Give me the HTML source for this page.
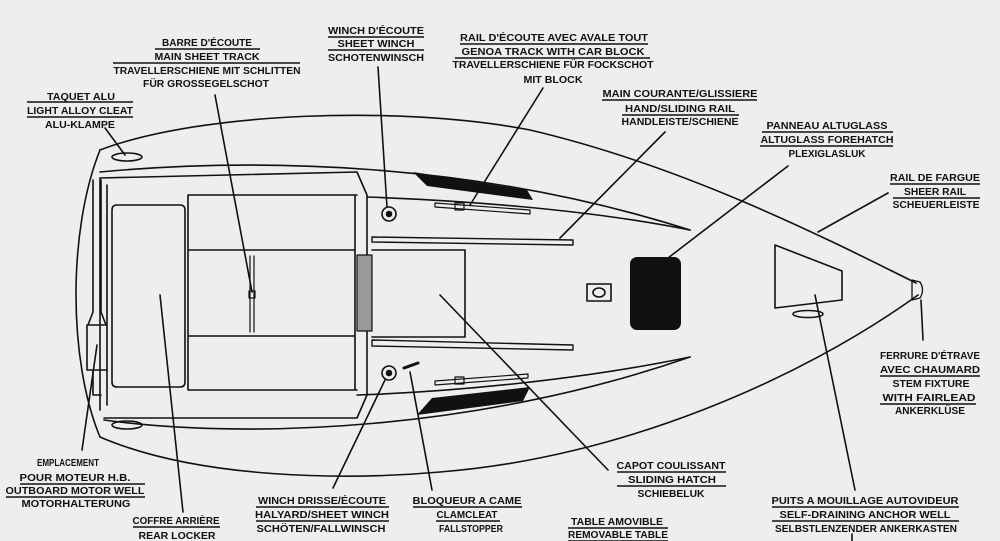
<!DOCTYPE html>
<html><head><meta charset="utf-8"><style>
html,body{margin:0;padding:0;background:#eeeeee;}
svg{display:block;}
text{font-family:"Liberation Sans",sans-serif;font-weight:bold;font-size:10.5px;fill:#111;text-anchor:middle;}
</style></head><body>
<svg width="1000" height="541" viewBox="0 0 1000 541" xmlns="http://www.w3.org/2000/svg">
<rect width="1000" height="541" fill="#eeeeee"/>
<g fill="none" stroke="#111" stroke-width="1.6" stroke-linecap="round" stroke-linejoin="round">
<!-- hull -->
<path d="M100,150 C200,112 400,105 530,130 C680,165 820,235 916,283"/>
<path d="M100,437 C200,480 350,480 440,472 C620,458 800,380 918,295"/>
<path d="M100,150 C68,230 68,360 100,437"/>
<!-- inner deck lines -->
<path d="M100,172 C250,158 470,160 690,230"/>
<path d="M367,197 C450,200 580,208 690,230"/>
<path d="M357,395 C450,392 580,380 690,357"/>
<path d="M104,420 C250,440 480,430 690,357"/>
<!-- transom / cockpit -->
<path d="M100,178 L357,172 L367,195 L367,395 L357,418 L104,418"/>
<path d="M100,178 L100,410 M107,185 L107,405"/>
<path d="M93,180 L93,312 M101,180 L101,312 M93,312 L88,325 L106,325 L101,312 M87,325 L87,370 L107,370 M93,370 L93,395 L101,395"/>
<path d="M117,205 L180,205 Q185,205 185,210 L185,382 Q185,387 180,387 L117,387 Q112,387 112,382 L112,210 Q112,205 117,205 Z"/>
<path d="M188,195 L188,390 M188,195 L357,195 M188,250 L355,250 M188,336 L355,336 M188,390 L357,390 M355,195 L355,390"/>
<path d="M250,256 L250,332 M254,256 L254,332" stroke-width="1.2"/>
<rect x="249" y="291" width="6" height="7" stroke-width="1.2"/>
<!-- cabin top -->
<path d="M372,250 L465,250 L465,337 L372,337"/>
<path d="M372,237 L573,240 L573,245 L372,242 Z M372,340 L573,345 L573,350 L372,346 Z" stroke-width="1.4"/>
<rect x="357" y="255" width="15" height="76" fill="#999" stroke-width="1.2"/>
<!-- winches -->
<circle cx="389" cy="214" r="7"/><circle cx="389" cy="214" r="2.5" fill="#111"/>
<circle cx="389" cy="373" r="7"/><circle cx="389" cy="373" r="2.5" fill="#111"/>
<path d="M404,368 L418,363" stroke-width="3"/>
<!-- genoa tracks -->
<path d="M435,203 L530,210 L530,214 L435,207 Z M435,381 L528,374 L528,378 L435,385 Z" stroke-width="1.2"/>
<rect x="455" y="203" width="9" height="7" stroke-width="1.2"/>
<rect x="455" y="377" width="9" height="7" stroke-width="1.2"/>
<!-- oval cleats -->
<ellipse cx="127" cy="157" rx="15" ry="4"/>
<ellipse cx="127" cy="425" rx="15" ry="4"/>
<ellipse cx="808" cy="314" rx="15" ry="3.5"/>
<!-- small hatch -->
<rect x="587" y="284" width="24" height="17"/>
<ellipse cx="599" cy="292.5" rx="6" ry="4.5"/>
<!-- anchor well -->
<path d="M775,245 L842,271 L842,300 L775,308 Z"/>
<!-- bow fitting -->
<path d="M912,280 L920,282 Q925,290 920,298 L912,300 Z" stroke-width="1.3"/>
<!-- leaders -->
<path d="M105,128 L125,155 M215,95 L252,292 M378,67 L387,207 M543,88 L470,205 M665,132 L560,238 M788,166 L668,258 M888,193 L818,232 M921,300 L923,340 M82,450 L97,345 M183,512 L160,295 M333,488 L385,380 M432,490 L410,372 M608,470 L440,295 M855,490 L815,295 M852,534 L852,541"/>
</g>
<g fill="#111">
<path d="M413,172 L527,190 L533,200 L427,186 Z"/>
<path d="M417,415 L432,398 L530,387 L523,401 Z"/>
<rect x="630" y="257" width="51" height="73" rx="7"/>
</g>
<g stroke="#111" stroke-width="1.4">
<!-- underlines -->
<line x1="27" y1="102" x2="133" y2="102"/><line x1="27" y1="117" x2="133" y2="117"/>
<line x1="155" y1="49" x2="260" y2="49"/><line x1="113" y1="63" x2="300" y2="63"/>
<line x1="328" y1="37" x2="424" y2="37"/><line x1="328" y1="50" x2="424" y2="50"/>
<line x1="460" y1="44" x2="648" y2="44"/><line x1="455" y1="58" x2="650" y2="58"/>
<line x1="602" y1="100" x2="757" y2="100"/><line x1="622" y1="115" x2="739" y2="115"/>
<line x1="762" y1="132" x2="893" y2="132"/><line x1="760" y1="146" x2="893" y2="146"/>
<line x1="890" y1="184" x2="980" y2="184"/><line x1="893" y1="198" x2="980" y2="198"/>
<line x1="880" y1="376" x2="980" y2="376"/><line x1="880" y1="404" x2="976" y2="404"/>
<line x1="20" y1="484" x2="145" y2="484"/><line x1="6" y1="497" x2="145" y2="497"/>
<line x1="133" y1="527" x2="220" y2="527"/>
<line x1="256" y1="507" x2="389" y2="507"/><line x1="256" y1="521" x2="389" y2="521"/>
<line x1="413" y1="507" x2="522" y2="507"/><line x1="436" y1="521" x2="500" y2="521"/>
<line x1="617" y1="472" x2="726" y2="472"/><line x1="617" y1="486" x2="726" y2="486"/>
<line x1="568" y1="528" x2="668" y2="528"/><line x1="568" y1="541" x2="668" y2="541"/>
<line x1="772" y1="507" x2="959" y2="507"/><line x1="772" y1="521" x2="959" y2="521"/>
</g>
<g>
<text x="81" y="100" textLength="68" lengthAdjust="spacingAndGlyphs">TAQUET ALU</text>
<text x="80" y="114" textLength="106" lengthAdjust="spacingAndGlyphs">LIGHT ALLOY CLEAT</text>
<text x="80" y="128" textLength="70" lengthAdjust="spacingAndGlyphs">ALU-KLAMPE</text>
<text x="207" y="46" textLength="90" lengthAdjust="spacingAndGlyphs">BARRE D'ÉCOUTE</text>
<text x="207" y="60" textLength="105" lengthAdjust="spacingAndGlyphs">MAIN SHEET TRACK</text>
<text x="207" y="74" textLength="187" lengthAdjust="spacingAndGlyphs">TRAVELLERSCHIENE MIT SCHLITTEN</text>
<text x="206" y="87" textLength="126" lengthAdjust="spacingAndGlyphs">FÜR GROSSEGELSCHOT</text>
<text x="376" y="34" textLength="96" lengthAdjust="spacingAndGlyphs">WINCH D'ÉCOUTE</text>
<text x="376" y="47" textLength="77" lengthAdjust="spacingAndGlyphs">SHEET WINCH</text>
<text x="376" y="61" textLength="96" lengthAdjust="spacingAndGlyphs">SCHOTENWINSCH</text>
<text x="554" y="41" textLength="188" lengthAdjust="spacingAndGlyphs">RAIL D'ÉCOUTE AVEC AVALE TOUT</text>
<text x="553" y="55" textLength="183" lengthAdjust="spacingAndGlyphs">GENOA TRACK WITH CAR BLOCK</text>
<text x="553" y="68" textLength="201" lengthAdjust="spacingAndGlyphs">TRAVELLERSCHIENE FÜR FOCKSCHOT</text>
<text x="553" y="83" textLength="59" lengthAdjust="spacingAndGlyphs">MIT BLOCK</text>
<text x="680" y="97" textLength="155" lengthAdjust="spacingAndGlyphs">MAIN COURANTE/GLISSIERE</text>
<text x="680" y="112" textLength="110" lengthAdjust="spacingAndGlyphs">HAND/SLIDING RAIL</text>
<text x="680" y="125" textLength="117" lengthAdjust="spacingAndGlyphs">HANDLEISTE/SCHIENE</text>
<text x="827" y="129" textLength="121" lengthAdjust="spacingAndGlyphs">PANNEAU ALTUGLASS</text>
<text x="827" y="143" textLength="133" lengthAdjust="spacingAndGlyphs">ALTUGLASS FOREHATCH</text>
<text x="827" y="157" textLength="77" lengthAdjust="spacingAndGlyphs">PLEXIGLASLUK</text>
<text x="935" y="181" textLength="90" lengthAdjust="spacingAndGlyphs">RAIL DE FARGUE</text>
<text x="935" y="195" textLength="62" lengthAdjust="spacingAndGlyphs">SHEER RAIL</text>
<text x="936" y="208" textLength="87" lengthAdjust="spacingAndGlyphs">SCHEUERLEISTE</text>
<text x="930" y="359" textLength="100" lengthAdjust="spacingAndGlyphs">FERRURE D'ÉTRAVE</text>
<text x="930" y="373" textLength="100" lengthAdjust="spacingAndGlyphs">AVEC CHAUMARD</text>
<text x="931" y="387" textLength="77" lengthAdjust="spacingAndGlyphs">STEM FIXTURE</text>
<text x="929" y="401" textLength="93" lengthAdjust="spacingAndGlyphs">WITH FAIRLEAD</text>
<text x="930" y="414" textLength="70" lengthAdjust="spacingAndGlyphs">ANKERKLÜSE</text>
<text x="68" y="466" textLength="62" lengthAdjust="spacingAndGlyphs">EMPLACEMENT</text>
<text x="75" y="481" textLength="111" lengthAdjust="spacingAndGlyphs">POUR MOTEUR H.B.</text>
<text x="75" y="494" textLength="139" lengthAdjust="spacingAndGlyphs">OUTBOARD MOTOR WELL</text>
<text x="76" y="507" textLength="109" lengthAdjust="spacingAndGlyphs">MOTORHALTERUNG</text>
<text x="176" y="524" textLength="87" lengthAdjust="spacingAndGlyphs">COFFRE ARRIÈRE</text>
<text x="177" y="539" textLength="77" lengthAdjust="spacingAndGlyphs">REAR LOCKER</text>
<text x="322" y="504" textLength="128" lengthAdjust="spacingAndGlyphs">WINCH DRISSE/ÉCOUTE</text>
<text x="322" y="518" textLength="134" lengthAdjust="spacingAndGlyphs">HALYARD/SHEET WINCH</text>
<text x="321" y="532" textLength="129" lengthAdjust="spacingAndGlyphs">SCHÖTEN/FALLWINSCH</text>
<text x="467" y="504" textLength="109" lengthAdjust="spacingAndGlyphs">BLOQUEUR A CAME</text>
<text x="467" y="518" textLength="61" lengthAdjust="spacingAndGlyphs">CLAMCLEAT</text>
<text x="471" y="532" textLength="64" lengthAdjust="spacingAndGlyphs">FALLSTOPPER</text>
<text x="671" y="469" textLength="109" lengthAdjust="spacingAndGlyphs">CAPOT COULISSANT</text>
<text x="672" y="483" textLength="88" lengthAdjust="spacingAndGlyphs">SLIDING HATCH</text>
<text x="671" y="497" textLength="67" lengthAdjust="spacingAndGlyphs">SCHIEBELUK</text>
<text x="617" y="525" textLength="92" lengthAdjust="spacingAndGlyphs">TABLE AMOVIBLE</text>
<text x="618" y="538" textLength="100" lengthAdjust="spacingAndGlyphs">REMOVABLE TABLE</text>
<text x="865" y="504" textLength="187" lengthAdjust="spacingAndGlyphs">PUITS A MOUILLAGE AUTOVIDEUR</text>
<text x="865" y="518" textLength="171" lengthAdjust="spacingAndGlyphs">SELF-DRAINING ANCHOR WELL</text>
<text x="866" y="532" textLength="182" lengthAdjust="spacingAndGlyphs">SELBSTLENZENDER ANKERKASTEN</text>
</g>
</svg>
</body></html>
